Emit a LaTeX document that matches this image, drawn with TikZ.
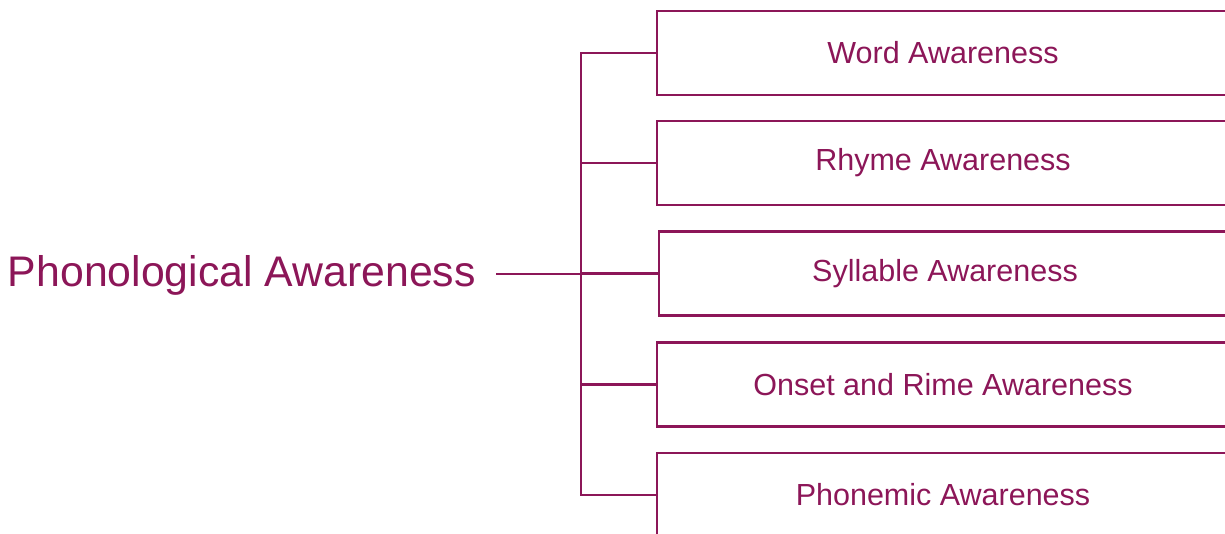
\documentclass[tikz,border=0pt]{standalone}
\usepackage{fontspec}
\setmainfont{Liberation Sans}
\usetikzlibrary{positioning}
\definecolor{plum}{RGB}{140,22,88}
\tikzset{
  skill box/.style={
    draw=plum, line width=2.4pt, text=plum,
    minimum width=572pt, minimum height=84pt, inner sep=0pt,
    font=\fontsize{30.5}{34}\selectfont
  },
  branch/.style={draw=plum, line width=2.4pt}
}

\begin{document}
\begin{tikzpicture}[x=1pt,y=-1pt]
\useasboundingbox (0,0) rectangle (1225,533);
\clip (0,0) rectangle (1225,533);
\node[anchor=east, inner xsep=20pt, text=plum, font=\fontsize{42.8}{48}\selectfont] (phono) at (496,275) {Phonological Awareness};
\coordinate (fork) at (581,274);
\foreach \name/\x/\y/\txt in {word/943/53/Word Awareness, rhyme/943/163/Rhyme Awareness, syllable/945/273.5/Syllable Awareness, onset/943/384.5/Onset and Rime Awareness, phonemic/943/495/Phonemic Awareness}
  \node[skill box] (\name) at (\x,\y) {\txt};
\draw[branch] (phono.east |- fork) -- (fork);
\foreach \name in {word,rhyme,syllable,onset,phonemic}
  \draw[branch] (\name.west) -| (fork);
\end{tikzpicture}
\end{document}
